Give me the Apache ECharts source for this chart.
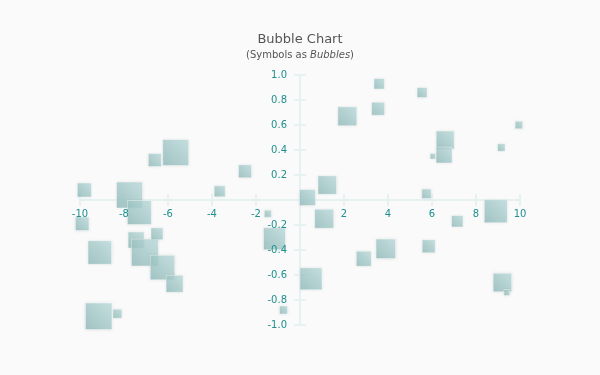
<!DOCTYPE html>
<html>
<head>
<meta charset="utf-8">
<script src="https://cdn.jsdelivr.net/npm/echarts@6/dist/echarts.min.js"></script>
<style>
html,body{margin:0;padding:0;background:#fafafa;}
#c{width:600px;height:375px;}
</style>
</head>
<body>
<div id="c"></div>
<script>
var xValues = [-9.8,-7.75,-7.3,-6.6,-5.65,-2.5,-3.65,-1.46,0.34,3.6,5.55,3.55,2.15,9.95,6.6,6.55,9.15,6.04,1.24,5.75,8.9,7.15,1.1,3.9,2.9,5.85,0.5,9.2,9.4,-9.9,-9.1,-7.45,-7.05,-6.5,-6.25,-5.7,-1.16,-9.15,-8.3,-0.75];
var yValues = [0.08,0.04,-0.10,0.32,0.38,0.23,0.07,-0.11,0.02,0.93,0.86,0.73,0.67,0.6,0.48,0.36,0.42,0.35,0.12,0.05,-0.09,-0.17,-0.15,-0.39,-0.47,-0.37,-0.63,-0.66,-0.74,-0.19,-0.42,-0.32,-0.42,-0.27,-0.54,-0.67,-0.31,-0.93,-0.91,-0.88];
var sizes = [14,26,24,13,26,13,11,7,16,10.5,10,13,19,7.5,18,16,7.5,5.5,18.5,9.5,23,11.5,19,19.5,15,13,22,18.5,6,13.5,23.5,16,27,12,24.5,17,22,26.5,9,8];

var points = xValues.map(function(x,i){ return [x, yValues[i], sizes[i]]; });

var chart = echarts.init(document.getElementById('c'));
var font = 'DejaVu Sans';
var axisColor = '#e6f1f1';
var labelColor = '#1f8f8f';

var W = 600, H = 375;
var grid = {left:80, right:80, top:75, bottom:50};
var plotW = W - grid.left - grid.right;
var plotH = H - grid.top - grid.bottom;
var xMin = -10, xMax = 10, yMin = -1, yMax = 1;
// move axes from grid edges to the zero crossing
var xAxisOffset = -plotH * (0 - yMin) / (yMax - yMin);
var yAxisOffset = -plotW * (0 - xMin) / (xMax - xMin);

// role: 'line' = axis line + outside ticks, 'inner' = inside ticks, 'labels' = labels only (on top)
function xAxisCfg(role){
  return {
    type:'value', min:xMin, max:xMax, interval:2, position:'bottom', offset:xAxisOffset,
    z: role==='labels' ? 10 : 0,
    axisLine:{show:role==='line', onZero:false, lineStyle:{color:axisColor, width:2}},
    axisTick:{show:role!=='labels', inside:role==='inner', length:6, lineStyle:{color:axisColor, width:2}},
    axisLabel:{show:role==='labels', margin:9, color:labelColor, fontFamily:font, fontSize:10,
      formatter:function(v){ return v===0 ? '' : String(v); }},
    splitLine:{show:false}
  };
}
function yAxisCfg(role){
  return {
    type:'value', min:yMin, max:yMax, interval:0.2, position:'left', offset:yAxisOffset,
    z: role==='labels' ? 10 : 0,
    axisLine:{show:role==='line', onZero:false, lineStyle:{color:axisColor, width:2}},
    axisTick:{show:role!=='labels', inside:role==='inner', length:6, lineStyle:{color:axisColor, width:2}},
    axisLabel:{show:role==='labels', margin:13, color:labelColor, fontFamily:font, fontSize:10,
      formatter:function(v){ return Math.abs(v)<1e-9 ? '' : v.toFixed(1); }},
    splitLine:{show:false}
  };
}

chart.setOption({
  backgroundColor:'#fafafa',
  animation:false,
  title:{
    text:'Bubble Chart',
    subtext:'(Symbols as {i|Bubbles})',
    left:'center', top:28, itemGap:4,
    textStyle:{color:'#555', fontFamily:font, fontSize:13, fontWeight:'normal'},
    subtextStyle:{color:'#555', fontFamily:font, fontSize:10,
      rich:{i:{fontStyle:'italic', color:'#555', fontFamily:font, fontSize:10}}}
  },
  grid:grid,
  xAxis:[xAxisCfg('line'), xAxisCfg('inner'), xAxisCfg('labels')],
  yAxis:[yAxisCfg('line'), yAxisCfg('inner'), yAxisCfg('labels')],
  series:[{
    type:'scatter',
    symbol:'rect',
    z:2,
    data:points,
    symbolSize:function(v){ return v[2]; },
    itemStyle:{
      opacity:0.78,
      color:new echarts.graphic.LinearGradient(1,0,0,1,[
        {offset:0,color:'#bcdcdc'},
        {offset:1,color:'#8cb8b8'}
      ]),
      borderColor:'rgba(255,255,255,0.5)',
      borderWidth:1,
      shadowBlur:3,
      shadowColor:'rgba(0,0,0,0.1)'
    }
  }]
});
</script>
</body>
</html>
